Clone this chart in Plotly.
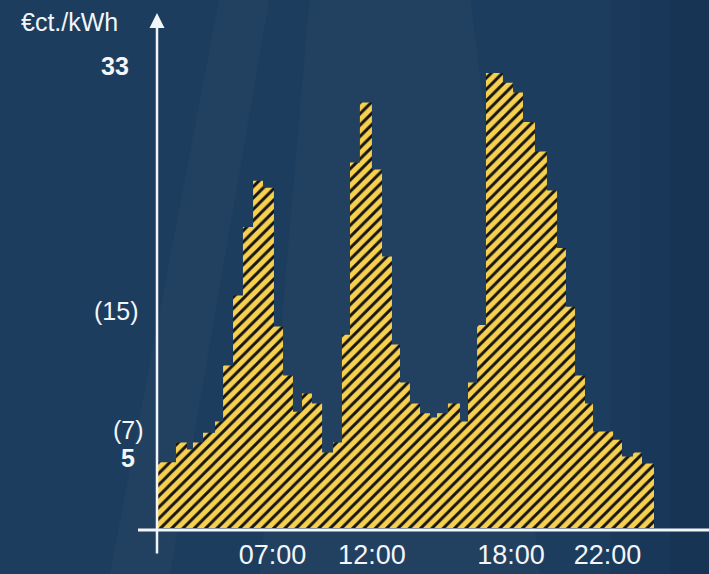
import plotly.graph_objects as go

# ---- data ----
step_start_h = [0.00, 0.87, 1.40, 1.69, 2.18, 2.76, 3.15, 3.63, 4.11, 4.60,
                5.08, 5.61, 6.05, 6.53, 6.97, 7.45, 7.94, 8.47, 8.90, 9.29,
                9.77, 10.35, 10.84, 11.32, 11.71, 12.19, 12.68, 13.16, 13.50, 14.03,
                14.61, 15.00, 15.44, 15.87, 16.69, 17.18, 17.66, 18.24, 18.82, 19.31,
                19.74, 20.18, 20.66, 21.05, 22.02, 22.45, 22.98, 23.42]
price_ct = [4.7, 6.1, 5.6, 6.1, 6.8, 7.6, 11.6, 16.6, 21.5, 24.8,
            24.3, 14.4, 10.9, 8.3, 9.6, 8.9, 5.4, 6.1, 13.8, 26.1,
            30.4, 25.6, 19.4, 13.1, 10.4, 8.9, 8.2, 7.9, 8.2, 8.9,
            7.6, 10.4, 14.5, 32.5, 31.8, 31.1, 29.0, 26.9, 24.1, 20.0,
            15.8, 10.9, 8.9, 6.9, 6.3, 5.1, 5.4, 4.6]
day_end_h = 24.0

x_tick_labels = ["07:00", "12:00", "18:00", "22:00"]
x_tick_pos_h = [5.54, 10.35, 17.08, 21.75]

y_tick_values = [33, 15, 7, 5]
y_tick_labels = ["<b>33</b>", "(15)", "(7)", "<b>5</b>"]
unit_label = "€ct./kWh"

# ---- layout geometry (pixels) ----
W, H = 709, 574
L, R, T, B = 157, 0, 0, 46
plot_w, plot_h = W - L - R, H - T - B
px_per_h = 496 / 24.0
px_per_unit = 14.0
x_lo = -1 / px_per_h
x_hi = x_lo + plot_w / px_per_h
y_hi = plot_h / px_per_unit

def xp(px):
    return (px - L) / plot_w

def yp(py):
    return (H - B - py) / plot_h

WHITE = "#f3f6f9"
YELLOW = "#f6d04e"
FONT = "Liberation Sans, Arial, sans-serif"

fig = go.Figure()
fig.add_trace(go.Scatter(
    x=step_start_h + [day_end_h],
    y=price_ct + [price_ct[-1]],
    mode="lines",
    line=dict(shape="hv", width=0, color="rgba(0,0,0,0)"),
    fill="tozeroy",
    fillcolor=YELLOW,
    fillpattern=dict(shape="/", fgcolor="#141414", bgcolor=YELLOW,
                     size=8, solidity=0.36, fillmode="replace"),
    hoverinfo="skip",
    showlegend=False,
))

shapes = []
# soft light beams in background
beams = [
    [(310, -5), (470, -5), (540, 574), (260, 574)],
    [(220, -5), (270, -5), (170, 574), (110, 574)],
]
for poly in beams:
    path = "M " + " L ".join(f"{xp(a)},{yp(b)}" for a, b in poly) + " Z"
    shapes.append(dict(type="path", path=path, xref="paper", yref="paper",
                       fillcolor="rgba(255,255,255,0.022)", line=dict(width=0),
                       layer="below"))
# gradually darker right edge
for x0 in [610, 640, 670]:
    shapes.append(dict(type="rect", xref="paper", yref="paper",
                       x0=xp(x0), x1=xp(712), y0=yp(580), y1=yp(-5),
                       fillcolor="rgba(0,10,35,0.04)", line=dict(width=0),
                       layer="below"))
# x axis line
shapes.append(dict(type="line", xref="paper", yref="paper",
                   x0=xp(138), x1=xp(712), y0=yp(530), y1=yp(530),
                   line=dict(color=WHITE, width=3)))

annotations = []
# y axis line with arrow
annotations.append(dict(xref="paper", yref="paper", x=xp(157), y=yp(13),
                        ax=0, ay=555 - 13, text="", showarrow=True,
                        arrowhead=2, arrowsize=1.2, arrowwidth=2.5,
                        arrowcolor=WHITE))
annotations.append(dict(xref="paper", yref="paper", x=xp(69), y=yp(22),
                        xanchor="center", yanchor="middle",
                        text=unit_label, showarrow=False,
                        font=dict(family=FONT, size=25, color=WHITE)))
label_cx = [115, 116, 128, 128]
for v, lab, cx in zip(y_tick_values, y_tick_labels, label_cx):
    annotations.append(dict(xref="paper", yref="y", x=xp(cx), y=v,
                            text=lab, showarrow=False, xanchor="center",
                            yanchor="middle",
                            font=dict(family=FONT, size=25, color=WHITE)))
# tweak (15) vertical position to match picture
annotations[3]["yshift"] = 7

fig.update_layout(
    width=W, height=H,
    margin=dict(l=L, r=R, t=T, b=B, pad=0),
    paper_bgcolor="#1d3d5e",
    plot_bgcolor="rgba(0,0,0,0)",
    shapes=shapes,
    annotations=annotations,
    xaxis=dict(range=[x_lo, x_hi], showgrid=False, zeroline=False,
               showline=False, ticks="", tickvals=x_tick_pos_h,
               ticktext=x_tick_labels, ticklabelstandoff=8,
               tickfont=dict(family=FONT, size=27, color=WHITE),
               fixedrange=True),
    yaxis=dict(range=[0, y_hi], visible=False, fixedrange=True),
)

fig.write_html(
    "out.html",
    config={"displayModeBar": False},
    post_script="document.body.style.margin='0';document.body.style.overflow='hidden';",
)
